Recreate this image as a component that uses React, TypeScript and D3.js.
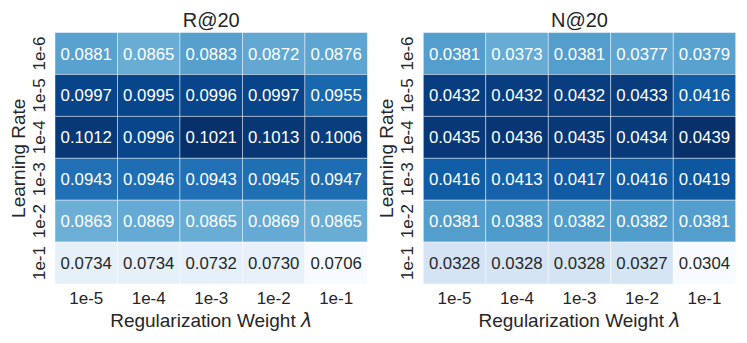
import React, { useEffect, useRef } from 'react'
import * as d3 from 'd3'

const rowLabels = ['1e-6', '1e-5', '1e-4', '1e-3', '1e-2', '1e-1']
const colLabels = ['1e-5', '1e-4', '1e-3', '1e-2', '1e-1']

const recallValues = [
  [0.0881, 0.0865, 0.0883, 0.0872, 0.0876],
  [0.0997, 0.0995, 0.0996, 0.0997, 0.0955],
  [0.1012, 0.0996, 0.1021, 0.1013, 0.1006],
  [0.0943, 0.0946, 0.0943, 0.0945, 0.0947],
  [0.0863, 0.0869, 0.0865, 0.0869, 0.0865],
  [0.0734, 0.0734, 0.0732, 0.073, 0.0706],
]

const ndcgValues = [
  [0.0381, 0.0373, 0.0381, 0.0377, 0.0379],
  [0.0432, 0.0432, 0.0432, 0.0433, 0.0416],
  [0.0435, 0.0436, 0.0435, 0.0434, 0.0439],
  [0.0416, 0.0413, 0.0417, 0.0416, 0.0419],
  [0.0381, 0.0383, 0.0382, 0.0382, 0.0381],
  [0.0328, 0.0328, 0.0328, 0.0327, 0.0304],
]

const panels = [
  { title: 'R@20', values: recallValues, left: 55 },
  { title: 'N@20', values: ndcgValues, left: 423.3 },
]

// matplotlib "Blues"
const blues = ['#f7fbff', '#deebf7', '#c6dbef', '#9ecae1', '#6baed6', '#4292c6', '#2171b5', '#08519c', '#08306b']

const font = "'Liberation Sans', Arial, Helvetica, sans-serif"
const ink = '#262626'

const luminance = (c: string) => {
  const rgb = d3.rgb(c)
  const ch = [rgb.r, rgb.g, rgb.b].map((v) => {
    const s = v / 255
    return s <= 0.03928 ? s / 12.92 : Math.pow((s + 0.055) / 1.055, 2.4)
  })
  return 0.2126 * ch[0] + 0.7152 * ch[1] + 0.0722 * ch[2]
}

const App = () => {
  const ref = useRef<SVGSVGElement>(null)

  useEffect(() => {
    const svg = d3.select(ref.current)
    svg.selectAll('*').remove()

    const top = 32.5
    const w = 312.4
    const h = 251.5

    panels.forEach((p) => {
      const flat = p.values.flat()
      const lo = d3.min(flat) as number
      const hi = d3.max(flat) as number
      const colorT = d3.scaleLinear().domain([lo, hi]).range([0, 1])
      const ramp = d3
        .scaleLinear<string>()
        .domain(d3.range(blues.length).map((i) => i / (blues.length - 1)))
        .range(blues)
        .interpolate(d3.interpolateRgb)
      const color = (v: number) => ramp(colorT(v))

      const x = d3.scaleBand().domain(colLabels).range([p.left, p.left + w])
      const y = d3.scaleBand().domain(rowLabels).range([top, top + h])

      const g = svg.append('g')

      const cells = p.values.flatMap((row, ri) =>
        row.map((v, ci) => ({ v, r: rowLabels[ri], c: colLabels[ci] }))
      )

      g.selectAll('rect')
        .data(cells)
        .enter()
        .append('rect')
        .attr('x', (d) => x(d.c)!)
        .attr('y', (d) => y(d.r)!)
        .attr('width', x.bandwidth())
        .attr('height', y.bandwidth())
        .attr('fill', (d) => color(d.v))
        .attr('stroke', 'rgba(255,255,255,0.55)')
        .attr('stroke-width', 0.8)

      g.selectAll('text.val')
        .data(cells)
        .enter()
        .append('text')
        .attr('class', 'val')
        .attr('x', (d) => x(d.c)! + x.bandwidth() / 2)
        .attr('y', (d) => y(d.r)! + y.bandwidth() / 2)
        .attr('dy', '0.36em')
        .attr('text-anchor', 'middle')
        .attr('font-family', font)
        .attr('font-size', 16.8)
        .attr('fill', (d) => (luminance(color(d.v)) > 0.408 ? ink : '#ffffff'))
        .text((d) => d.v.toFixed(4))

      // x ticks
      g.selectAll('text.xt')
        .data(colLabels)
        .enter()
        .append('text')
        .attr('class', 'xt')
        .attr('x', (d) => x(d)! + x.bandwidth() / 2)
        .attr('y', 304)
        .attr('text-anchor', 'middle')
        .attr('font-family', font)
        .attr('font-size', 17)
        .attr('fill', ink)
        .text((d) => d)

      // y ticks
      g.selectAll('text.yt')
        .data(rowLabels)
        .enter()
        .append('text')
        .attr('class', 'yt')
        .attr('transform', (d) => `translate(${p.left - 10},${y(d)! + y.bandwidth() / 2}) rotate(-90)`)
        .attr('text-anchor', 'middle')
        .attr('font-family', font)
        .attr('font-size', 17)
        .attr('fill', ink)
        .text((d) => d)

      g.append('text')
        .attr('x', p.left + w / 2)
        .attr('y', 26.7)
        .attr('text-anchor', 'middle')
        .attr('font-family', font)
        .attr('font-size', 20)
        .attr('fill', ink)
        .text(p.title)

      const xl = g
        .append('text')
        .attr('x', p.left + w / 2)
        .attr('y', 327)
        .attr('text-anchor', 'middle')
        .attr('font-family', font)
        .attr('font-size', 19)
        .attr('fill', ink)
      xl.append('tspan').text('Regularization Weight ')
      xl.append('tspan').attr('font-style', 'italic').attr('font-family', 'DejaVu Sans').text('λ')

      g.append('text')
        .attr('transform', `translate(${p.left - 30},${top + h / 2}) rotate(-90)`)
        .attr('text-anchor', 'middle')
        .attr('font-family', font)
        .attr('font-size', 19)
        .attr('fill', ink)
        .text('Learning Rate')
    })
  }, [])

  return (
    <svg ref={ref} width={747} height={343} style={{ position: 'absolute', left: 0, top: 0, background: '#fff' }} />
  )
}

export default App
